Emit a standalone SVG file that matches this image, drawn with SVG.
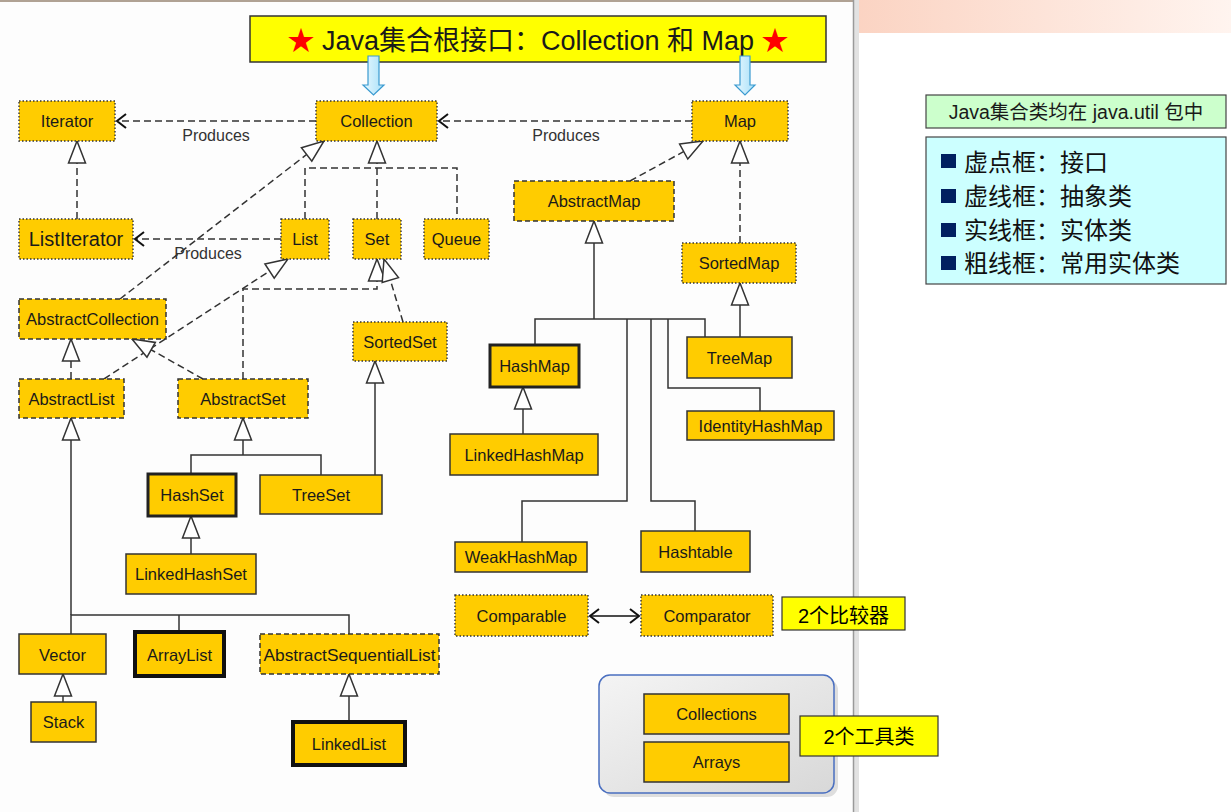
<svg xmlns="http://www.w3.org/2000/svg" width="1231" height="812" viewBox="0 0 1231 812">
<style>
text{font-family:"Liberation Sans","Noto Sans CJK SC",sans-serif;fill:#1a1a1a}
.n rect{fill:#ffcc00}
.n text{font-size:16.5px;text-anchor:middle}
.itf rect{stroke:#333;stroke-width:1.4;stroke-dasharray:1.5 2}
.abs rect{stroke:#333;stroke-width:1.5;stroke-dasharray:5 3}
.cls rect{stroke:#333;stroke-width:1.5}
.bold rect{stroke:#111;stroke-width:4}
.semi rect{stroke:#222;stroke-width:3}
.d{fill:none;stroke:#333;stroke-width:1.5;stroke-dasharray:7 4}
.s{fill:none;stroke:#333;stroke-width:1.5}
.lbl{font-size:16px;fill:#333;text-anchor:middle}
.note rect{fill:#ffff00;stroke:#333;stroke-width:1.2}
.note text{font-size:20px;text-anchor:middle;fill:#000}
.leg{font-size:24px;fill:#111}
</style>
<defs>
<linearGradient id="bar" x1="0" y1="0" x2="1" y2="0"><stop offset="0" stop-color="#fbd3c2"/><stop offset="1" stop-color="#fff4ef"/></linearGradient>
<linearGradient id="grp" x1="0" y1="0" x2="1" y2="1"><stop offset="0" stop-color="#f4f4f4"/><stop offset="1" stop-color="#d8d8d8"/></linearGradient>
<linearGradient id="blu" x1="0" y1="0" x2="1" y2="0"><stop offset="0" stop-color="#e8f8ff"/><stop offset="1" stop-color="#a8e0f8"/></linearGradient>
<marker id="tri" markerUnits="userSpaceOnUse" markerWidth="26" markerHeight="22" viewBox="0 0 26 22" refX="24" refY="11" orient="auto"><path d="M2,2.5 L24,11 L2,19.5 Z" fill="#fff" stroke="#333" stroke-width="1.5"/></marker>
<marker id="open" markerUnits="userSpaceOnUse" markerWidth="14" markerHeight="18" viewBox="0 0 14 18" refX="12" refY="9" orient="auto-start-reverse"><path d="M3,2 L12,9 L3,16" fill="none" stroke="#111" stroke-width="2"/></marker>
</defs>
<rect x="0" y="0" width="1231" height="812" fill="#fff"/>
<rect x="853" y="0" width="378" height="33" fill="url(#bar)"/>
<rect x="0" y="0" width="853" height="812" fill="#fdfdfd"/>
<line x1="0" y1="1" x2="853" y2="1" stroke="#b0a294" stroke-width="2"/>
<rect x="854" y="0" width="5" height="812" fill="#e2e2e2"/>
<line x1="853.5" y1="0" x2="853.5" y2="812" stroke="#9a9a9a" stroke-width="1.5"/>

<g id="title">
<rect x="250" y="16" width="576" height="46" fill="#ffff00" stroke="#333" stroke-width="1.5"/>
<text x="538" y="50" font-size="27" text-anchor="middle" fill="#000"><tspan fill="#ff0000">★</tspan> Java集合根接口：Collection 和 Map <tspan fill="#ff0000">★</tspan></text>
</g>
<g id="blue-arrows" fill="url(#blu)" stroke="#3a9ad0" stroke-width="1.2">
<path d="M368,56 L379,56 L379,85 L384,85 L373.5,95 L363,85 L368,85 Z"/>
<path d="M740,56 L750,56 L750,85 L755,85 L745,95 L735,85 L740,85 Z"/>
</g>

<g id="connectors">
<path class="d" d="M316,121 H117" marker-end="url(#open)"/>
<path class="d" d="M692,121 H439" marker-end="url(#open)"/>
<path class="d" d="M77,219 V141" marker-end="url(#tri)"/>
<path class="d" d="M281,239 H135" marker-end="url(#open)"/>
<path class="d" d="M305,219 V168 H457 V219"/>
<path class="d" d="M377,219 V141" marker-end="url(#tri)"/>
<path class="d" d="M120,299 L324,141" marker-end="url(#tri)"/>
<path class="d" d="M104,379 L288,259" marker-end="url(#tri)"/>
<path class="d" d="M243,379 V289 H377 V259" marker-end="url(#tri)"/>
<path class="d" d="M403,322 L384,259" marker-end="url(#tri)"/>
<path class="d" d="M203,379 L132,339" marker-end="url(#tri)"/>
<path class="d" d="M71,379 V339" marker-end="url(#tri)"/>
<path class="d" d="M740,243 V141" marker-end="url(#tri)"/>
<path class="d" d="M630,181 L703,141" marker-end="url(#tri)"/>
<path class="s" d="M594,319 V221" marker-end="url(#tri)"/>
<path class="s" d="M535,345 V319 H705 V337"/>
<path class="s" d="M627,319 V501 H522 V542"/>
<path class="s" d="M651,319 V501 H695 V531"/>
<path class="s" d="M668,319 V388 H760 V411"/>
<path class="s" d="M740,337 V283" marker-end="url(#tri)"/>
<path class="s" d="M523,434 V387" marker-end="url(#tri)"/>
<path class="s" d="M71,615 V418" marker-end="url(#tri)"/>
<path class="s" d="M71,634 V615 H349 V634"/>
<path class="s" d="M179,615 V632"/>
<path class="s" d="M63,702 V674" marker-end="url(#tri)"/>
<path class="s" d="M349,722 V674" marker-end="url(#tri)"/>
<path class="s" d="M243,455 V418" marker-end="url(#tri)"/>
<path class="s" d="M191,474 V455 H321 V475"/>
<path class="s" d="M375,475 V361" marker-end="url(#tri)"/>
<path class="s" d="M191,554 V516" marker-end="url(#tri)"/>
<path d="M590,616 H639" stroke="#111" stroke-width="1.5" marker-start="url(#open)" marker-end="url(#open)"/>
<text class="lbl" x="216" y="141">Produces</text>
<text class="lbl" x="566" y="141">Produces</text>
<text class="lbl" x="208" y="259">Produces</text>
</g>

<g id="n-iterator" class="n itf"><rect x="19" y="101" width="96" height="40"/><text x="67" y="127">Iterator</text></g>
<g id="n-collection" class="n itf"><rect x="316" y="101" width="121" height="40"/><text x="376.5" y="127">Collection</text></g>
<g id="n-map" class="n itf"><rect x="692" y="101" width="96" height="40"/><text x="740" y="127">Map</text></g>
<g id="n-listiterator" class="n itf"><rect x="19" y="219" width="114" height="40"/><text x="76" y="246" style="font-size:20px">ListIterator</text></g>
<g id="n-list" class="n itf"><rect x="281" y="219" width="48" height="40"/><text x="305" y="245">List</text></g>
<g id="n-set" class="n itf"><rect x="353" y="219" width="48" height="40"/><text x="377" y="245">Set</text></g>
<g id="n-queue" class="n itf"><rect x="424" y="219" width="65" height="40"/><text x="456.5" y="245">Queue</text></g>
<g id="n-abstractmap" class="n abs"><rect x="514" y="181" width="160" height="40"/><text x="594" y="207">AbstractMap</text></g>
<g id="n-sortedmap" class="n itf"><rect x="682" y="243" width="114" height="40"/><text x="739" y="269">SortedMap</text></g>
<g id="n-abstractcollection" class="n abs"><rect x="19" y="299" width="147" height="40"/><text x="92.5" y="325">AbstractCollection</text></g>
<g id="n-sortedset" class="n itf"><rect x="353" y="322" width="94" height="39"/><text x="400" y="348">SortedSet</text></g>
<g id="n-abstractlist" class="n abs"><rect x="19" y="379" width="105" height="39"/><text x="71.5" y="404.5">AbstractList</text></g>
<g id="n-abstractset" class="n abs"><rect x="178" y="379" width="130" height="39"/><text x="243" y="404.5">AbstractSet</text></g>
<g id="n-hashset" class="n semi"><rect x="148" y="474" width="88" height="42"/><text x="192" y="501">HashSet</text></g>
<g id="n-treeset" class="n cls"><rect x="260" y="475" width="122" height="39"/><text x="321" y="501">TreeSet</text></g>
<g id="n-linkedhashset" class="n cls"><rect x="126" y="554" width="130" height="40"/><text x="191" y="580">LinkedHashSet</text></g>
<g id="n-hashmap" class="n semi"><rect x="490" y="345" width="89" height="42"/><text x="534.5" y="372">HashMap</text></g>
<g id="n-treemap" class="n cls"><rect x="687" y="337" width="105" height="41"/><text x="739.5" y="364">TreeMap</text></g>
<g id="n-linkedhashmap" class="n cls"><rect x="450" y="434" width="148" height="41"/><text x="524" y="461">LinkedHashMap</text></g>
<g id="n-identityhashmap" class="n cls"><rect x="687" y="411" width="147" height="29"/><text x="760.5" y="431.5">IdentityHashMap</text></g>
<g id="n-weakhashmap" class="n cls"><rect x="455" y="542" width="132" height="30"/><text x="521" y="563">WeakHashMap</text></g>
<g id="n-hashtable" class="n cls"><rect x="641" y="531" width="109" height="41"/><text x="695.5" y="557.5">Hashtable</text></g>
<g id="n-vector" class="n cls"><rect x="19" y="634" width="87" height="40"/><text x="62.5" y="661">Vector</text></g>
<g id="n-arraylist" class="n bold"><rect x="135" y="632" width="89" height="44"/><text x="179.5" y="661">ArrayList</text></g>
<g id="n-abstractsequentiallist" class="n abs"><rect x="260" y="634" width="179" height="40"/><text x="349.5" y="661" textLength="172" lengthAdjust="spacingAndGlyphs">AbstractSequentialList</text></g>
<g id="n-stack" class="n cls"><rect x="31" y="702" width="65" height="40"/><text x="63.5" y="728">Stack</text></g>
<g id="n-linkedlist" class="n bold"><rect x="293" y="722" width="112" height="43"/><text x="349" y="749.5">LinkedList</text></g>
<g id="n-comparable" class="n itf"><rect x="455" y="595" width="133" height="41"/><text x="521.5" y="622">Comparable</text></g>
<g id="n-comparator" class="n itf"><rect x="641" y="595" width="132" height="41"/><text x="707" y="622">Comparator</text></g>

<g id="tools">
<rect x="603" y="679" width="235" height="118" rx="11" fill="#000" opacity="0.12"/>
<rect x="599" y="675" width="235" height="118" rx="11" fill="url(#grp)" stroke="#4a6fc0" stroke-width="1.5"/>
</g>
<g id="n-collections" class="n cls"><rect x="644" y="694" width="145" height="40"/><text x="716.5" y="720">Collections</text></g>
<g id="n-arrays" class="n cls"><rect x="644" y="742" width="145" height="40"/><text x="716.5" y="768">Arrays</text></g>

<g id="note-comparators" class="note"><rect x="782" y="597" width="123" height="33"/><text x="843.5" y="623">2个比较器</text></g>
<g id="note-tools" class="note"><rect x="800" y="716" width="138" height="40"/><text x="869" y="744">2个工具类</text></g>

<g id="legend">
<rect x="926" y="95" width="300" height="33" fill="#ccffcc" stroke="#444" stroke-width="1.2"/>
<text x="1076" y="119" font-size="19.5" text-anchor="middle" fill="#111">Java集合类均在 java.util 包中</text>
<rect x="926" y="137" width="300" height="147" fill="#ccffff" stroke="#444" stroke-width="1.2"/>
<g fill="#002060">
<rect x="941" y="154" width="15" height="14"/>
<rect x="941" y="189" width="15" height="14"/>
<rect x="941" y="223" width="15" height="14"/>
<rect x="941" y="256" width="15" height="14"/>
</g>
<text class="leg" x="964" y="171">虚点框：接口</text>
<text class="leg" x="964" y="205">虚线框：抽象类</text>
<text class="leg" x="964" y="239">实线框：实体类</text>
<text class="leg" x="964" y="272">粗线框：常用实体类</text>
</g>
</svg>
